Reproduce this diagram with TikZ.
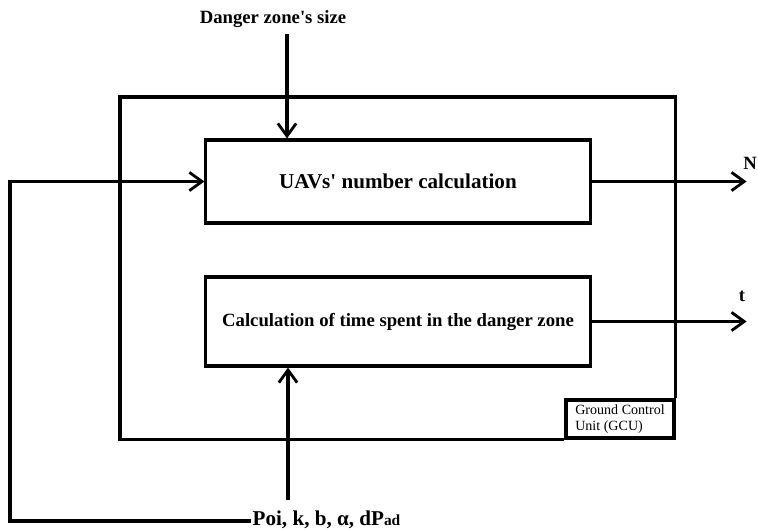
\documentclass[tikz,border=0pt]{standalone}
\usepackage{fontspec}
\setmainfont{Liberation Serif}
\usetikzlibrary{arrows.meta}
\tikzset{
  block/.style = {draw, line width = 2.2pt, minimum width = 9.6cm, font = \bfseries},
  arr/.style = {-{Straight Barb[length = 9pt, width = 13pt, line width = 2pt]}, line width = 2.2pt},
  frame/.style = {line width = 2.2pt},
  lbl/.style = {font = \bfseries\fontsize{13.3}{15}\selectfont, inner sep = 1pt}
}
\begin{document}
\begin{tikzpicture}[x = 0.025cm, y = -0.025cm]
\useasboundingbox (0,0) rectangle (758,529);
\node (uav) at (398,181.5) [block, minimum height = 2.075cm, font = \bfseries\fontsize{15}{17}\selectfont] {UAVs\textquotesingle\ number calculation};
\node (tsp) at (398,321.5) [block, minimum height = 2.225cm, font = \bfseries\fontsize{13.3}{15}\selectfont] {Calculation of time spent in the danger zone};
\node (gcu) at (620,419) [draw, line width = 2.2pt, minimum width = 2.7cm, minimum height = 0.95cm, align = left, inner sep = 2pt, font = \fontsize{10}{11}\selectfont] {Ground Control\\Unit (GCU)};
% GCU frame
\coordinate (fl) at (120,97);
\draw [frame] (gcu.south west) -- (gcu.south west -| fl) -- (fl) -- (fl -| gcu.north east) -- (gcu.north east);
% inputs
\node (dzs) at (273,19) [lbl] {Danger zone\textquotesingle s size};
\coordinate (in1) at (287,34);
\draw [arr] (in1) -- (in1 |- uav.north);
\node (par) at (251,520) [lbl, anchor = west, font = \bfseries\fontsize{15}{17}\selectfont] {Poi, k, b, α, dP{\fontsize{11}{12}\selectfont ad}};
\coordinate (in2) at (288,500);
\draw [arr] (in2) -- (in2 |- tsp.south);
\coordinate (lp) at (10,521);
\draw [arr] (par.west |- lp) -- (lp) -- (lp |- uav.west) -- (uav.west);
% outputs
\draw [arr] (uav.east) -- ++(155,0) coordinate (nout);
\draw [arr] (tsp.east) -- ++(155,0) coordinate (tout);
\node (nlbl) at (750,163) [lbl] {N};
\node (tlbl) at (742,296) [lbl] {t};
\end{tikzpicture}
\end{document}
